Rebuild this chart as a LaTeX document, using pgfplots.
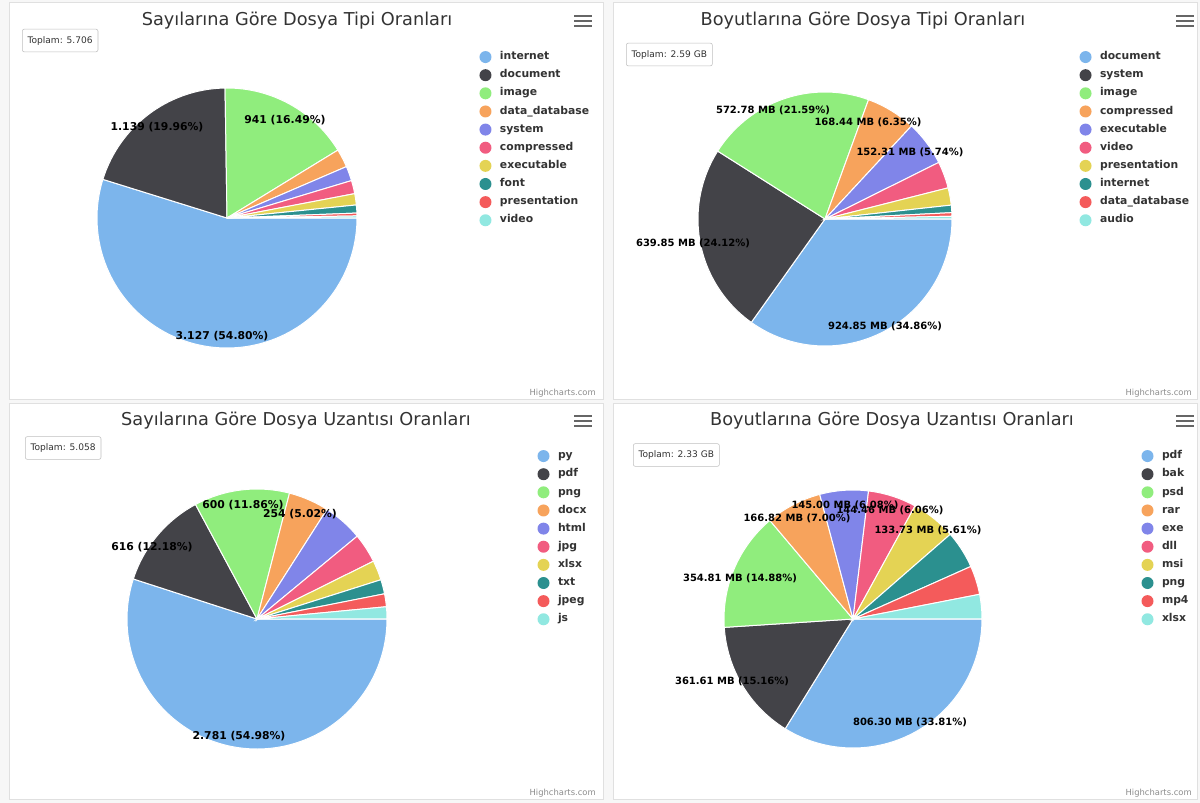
\documentclass[border=0pt]{standalone}
\usepackage{pgfplots}
\pgfplotsset{compat=1.18}
\usepackage{fontspec}
\setmainfont{DejaVu Sans}

\definecolor{c1}{HTML}{7CB5EC}
\definecolor{c2}{HTML}{434348}
\definecolor{c3}{HTML}{90ED7D}
\definecolor{c4}{HTML}{F7A35C}
\definecolor{c5}{HTML}{8085E9}
\definecolor{c6}{HTML}{F15C80}
\definecolor{c7}{HTML}{E4D354}
\definecolor{c8}{HTML}{2B908F}
\definecolor{c9}{HTML}{F45B5B}
\definecolor{c10}{HTML}{91E8E1}
\definecolor{txt}{HTML}{333333}

\def\cumangle{0}
\def\pietotal{100}
\def\pieR{130}
% one pie slice: #1 value, #2 colour, #3 legend text
\newcommand\slice[3]{%
  \pgfmathsetmacro\sfrac{#1/\pietotal}%
  \pgfmathsetmacro\sA{\cumangle}%
  \pgfmathsetmacro\sB{\cumangle+360*\sfrac}%
  \pgfmathsetmacro\samp{int(max(3,ceil((\sB-\sA)/2)+1))}%
  \xdef\cumangle{\sB}%
  \edef\doplot{\noexpand\addplot[fill=#2, draw=white, line width=0.75pt, domain=-\sB:-\sA, samples=\samp] ({\pieR*cos(x)},{\pieR*sin(x)}) -- (axis cs:0,0) -- cycle;}%
  \doplot
  \addlegendentry{#3}%
}
\newcommand\plabel[4][8.1]{\node[font=\fontsize{#1}{9}\selectfont\bfseries, text=black, inner sep=0pt] at (axis cs:#2,#3) {#4};}

\pgfplotsset{
  legend image code/.code={\path (0pt,0pt) (15pt,0pt); \fill[#1,draw=none] (4.5pt,0pt) circle (4.5pt);},
  panel/.style={x=0.75pt, y=0.75pt, axis lines=box, xtick=\empty, ytick=\empty,
    axis background/.style={fill=white},
    axis line style={draw=black!12, line width=0.75pt}, enlargelimits=false, clip=false,
    anchor=north west, legend cell align=left,
    legend style={draw=none, fill=none, anchor=north west, inner sep=0pt, outer sep=0pt,
      row sep=0pt, column sep=0pt,
      nodes={inner sep=0pt, text height=8.8pt, text depth=4.8pt,
        font=\fontsize{8.1}{9}\selectfont\bfseries, text=txt}}},
}

\newcommand\burger[2]{%
  \foreach \dy in {-5,0,5}{\draw[line width=2.1pt, black!60] (#1-9,#2+\dy) -- (#1+9,#2+\dy);}}
\newcommand\toplam[3]{\node[draw=black!25, fill=white, rounded corners=1.5pt, anchor=west,
   minimum height=17pt, inner xsep=4pt, font=\fontsize{6.8}{8}\selectfont, text=txt] at (#1,#2) {#3};}
\newcommand\credit[2]{\node[anchor=base east, font=\fontsize{6.3}{7}\selectfont, text=black!45, inner sep=0pt] at (#1,#2) {Highcharts.com};}

\begin{document}
\begin{tikzpicture}
\fill[black!3] (0,0) rectangle (900pt,-602.25pt);

% ---------- Panel 1 ----------
\gdef\cumangle{0}\def\pietotal{5706}\def\pieR{130}
\begin{axis}[panel, at={(6.75pt,-2.25pt)}, xmin=-218, xmax=376, ymin=-181, ymax=215,
  legend style={at={(0.7912,0.8864)}}]
\slice{3127}{c1}{internet}
\slice{1139}{c2}{document}
\slice{941}{c3}{image}
\slice{130}{c4}{data\_database}
\slice{104}{c5}{system}
\slice{94}{c6}{compressed}
\slice{80}{c7}{executable}
\slice{57}{c8}{font}
\slice{20}{c9}{presentation}
\slice{14}{c10}{video}
\plabel{-5}{-118}{3.127 (54.80\%)}
\plabel{-70}{91}{1.139 (19.96\%)}
\plabel{58}{98}{941 (16.49\%)}
\end{axis}

% ---------- Panel 2 ----------
\gdef\cumangle{0}\def\pietotal{100}\def\pieR{127}
\begin{axis}[panel, at={(459.75pt,-2.25pt)}, xmin=-212, xmax=372, ymin=-180, ymax=216,
  legend style={at={(0.798,0.8864)}}]
\slice{34.86}{c1}{document}
\slice{24.12}{c2}{system}
\slice{21.59}{c3}{image}
\slice{6.35}{c4}{compressed}
\slice{5.74}{c5}{executable}
\slice{3.40}{c6}{video}
\slice{2.20}{c7}{presentation}
\slice{0.95}{c8}{internet}
\slice{0.45}{c9}{data\_database}
\slice{0.34}{c10}{audio}
\plabel[7.5]{60}{-107}{924.85 MB (34.86\%)}
\plabel[7.5]{-132}{-24}{639.85 MB (24.12\%)}
\plabel[7.5]{-52}{109}{572.78 MB (21.59\%)}
\plabel[7.5]{43}{97}{168.44 MB (6.35\%)}
\plabel[7.5]{85}{67}{152.31 MB (5.74\%)}
\end{axis}

% ---------- Panel 3 ----------
\gdef\cumangle{0}\def\pietotal{5058}\def\pieR{130}
\begin{axis}[panel, at={(6.75pt,-302.25pt)}, xmin=-248, xmax=346, ymin=-180, ymax=216,
  legend style={at={(0.8889,0.8889)}}]
\slice{2781}{c1}{py}
\slice{616}{c2}{pdf}
\slice{600}{c3}{png}
\slice{254}{c4}{docx}
\slice{251}{c5}{html}
\slice{185}{c6}{jpg}
\slice{124}{c7}{xlsx}
\slice{90}{c8}{txt}
\slice{81}{c9}{jpeg}
\slice{76}{c10}{js}
\plabel{-18}{-117}{2.781 (54.98\%)}
\plabel{-105}{72}{616 (12.18\%)}
\plabel{-14}{114}{600 (11.86\%)}
\plabel{43}{105}{254 (5.02\%)}
\end{axis}

% ---------- Panel 4 ----------
\gdef\cumangle{0}\def\pietotal{100}\def\pieR{129}
\begin{axis}[panel, at={(459.75pt,-302.25pt)}, xmin=-240, xmax=344, ymin=-180, ymax=216,
  legend style={at={(0.9041,0.8889)}}]
\slice{33.81}{c1}{pdf}
\slice{15.16}{c2}{bak}
\slice{14.88}{c3}{psd}
\slice{7.00}{c4}{rar}
\slice{6.08}{c5}{exe}
\slice{6.06}{c6}{dll}
\slice{5.61}{c7}{msi}
\slice{4.73}{c8}{png}
\slice{3.61}{c9}{mp4}
\slice{3.06}{c10}{xlsx}
\plabel[7.5]{57}{-103}{806.30 MB (33.81\%)}
\plabel[7.5]{-121}{-62}{361.61 MB (15.16\%)}
\plabel[7.5]{-113}{41}{354.81 MB (14.88\%)}
\plabel[7.5]{-56}{101}{166.82 MB (7.00\%)}
\plabel[7.5]{-8}{114}{145.00 MB (6.08\%)}
\plabel[7.5]{37}{109}{144.46 MB (6.06\%)}
\plabel[7.5]{75}{89}{133.73 MB (5.61\%)}
\end{axis}

% ---------- decorations (pixel coordinates) ----------
\begin{scope}[x=0.75pt, y=-0.75pt]
\begin{scope}[font=\fontsize{13.3}{15}\selectfont, text=txt]
\node[anchor=base, inner sep=0pt] at (297,26) {Sayılarına Göre Dosya Tipi Oranları};
\node[anchor=base, inner sep=0pt] at (863,26) {Boyutlarına Göre Dosya Tipi Oranları};
\node[anchor=base, inner sep=0pt] at (296,425) {Sayılarına Göre Dosya Uzantısı Oranları};
\node[anchor=base, inner sep=0pt] at (892,425) {Boyutlarına Göre Dosya Uzantısı Oranları};
\end{scope}
\burger{583}{21}\burger{1185}{21}\burger{583}{421}\burger{1185}{421}
\toplam{22}{40.5}{Toplam: 5.706}
\toplam{626}{54.5}{Toplam: 2.59 GB}
\toplam{25}{448}{Toplam: 5.058}
\toplam{633}{455}{Toplam: 2.33 GB}
\credit{596}{395}\credit{1192}{395}\credit{596}{795}\credit{1192}{795}
\end{scope}
\pgfresetboundingbox
\useasboundingbox (0,0) rectangle (900pt,-602.25pt);
\end{tikzpicture}
\end{document}
